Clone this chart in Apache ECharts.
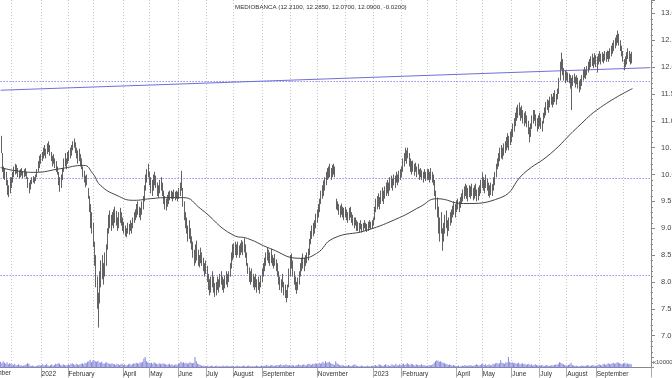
<!DOCTYPE html>
<html>
<head>
<meta charset="utf-8">
<title>Mediobanca</title>
<script src="https://cdn.jsdelivr.net/npm/echarts@6/dist/echarts.min.js"></script>
<style>
html, body { margin: 0; padding: 0; background: #fff; }
#chart { width: 672px; height: 378px; }
</style>
</head>
<body>
<div id="chart"></div>
<script>
const title = 'MEDIOBANCA (12.2100, 12.2850, 12.0700, 12.0900, -0.0200)'
const axisStart = '2021-11-18'
const axisEnd = '2023-10-31'
const firstBar = '2021-11-18'
const cutLabel = 'November'   // label of the month that starts left of the window

// month tick labels that are printed (the others are hidden by overlap)
const monthLabels = [
  ['2022-01', '2022'], ['2022-02', 'February'], ['2022-04', 'April'],
  ['2022-05', 'May'], ['2022-06', 'June'], ['2022-07', 'July'], ['2022-08', 'August'],
  ['2022-09', 'September'], ['2022-11', 'November'], ['2023-01', '2023'], ['2023-02', 'February'],
  ['2023-04', 'April'], ['2023-05', 'May'], ['2023-06', 'June'], ['2023-07', 'July'],
  ['2023-08', 'August'], ['2023-09', 'September']
]

// daily lows / highs, one line per month, from firstBar on
const lows = [
  10.40, 10.05, 9.92, 9.90, 9.80, 9.62, 9.58, 9.65, 9.75,
  9.85, 9.95, 10.00, 10.02, 9.95, 9.93, 9.95, 9.98, 9.93, 9.95, 9.97, 9.92, 9.75, 9.65, 9.72, 9.82, 9.85, 9.83, 9.88, 9.95, 10.05, 10.12, 10.20,
  10.25, 10.30, 10.35, 10.30, 10.38, 10.42, 10.35, 10.25, 10.15, 10.20, 10.12, 10.05, 10.00, 9.80, 9.68, 9.75, 9.90, 10.05, 10.15, 10.10, 10.20,
  10.25, 10.30, 10.35, 10.45, 10.50, 10.40, 10.30, 10.20, 10.25, 10.15, 10.10, 9.95, 9.85, 9.76, 9.80, 9.55, 9.30, 9.00, 8.90, 8.65,
  8.30, 7.90, 7.50, 7.15, 7.60, 7.90, 8.05, 7.95, 8.10, 8.30, 8.60, 8.90, 9.00, 8.95, 9.05, 9.00, 9.10, 9.05, 8.95, 9.00, 9.10, 9.05, 8.95,
  8.90, 8.85, 8.83, 8.90, 8.88, 8.95, 8.90, 9.00, 9.10, 9.15, 9.20, 9.25, 9.20, 9.15, 9.25, 9.35, 9.50, 9.70, 9.85, 9.95, 9.80,
  9.65, 9.60, 9.70, 9.80, 9.75, 9.60, 9.57, 9.65, 9.70, 9.60, 9.45, 9.35, 9.33, 9.40, 9.45, 9.52, 9.55, 9.50, 9.55, 9.52, 9.55, 9.50,
  9.55, 9.60, 9.70, 9.40, 9.15, 9.00, 8.90, 8.75, 8.80, 8.72, 8.60, 8.45, 8.30, 8.35, 8.40, 8.30, 8.27, 8.35, 8.30, 8.20, 8.10, 8.15,
  8.00, 7.85, 7.75, 7.80, 7.90, 7.80, 7.72, 7.75, 7.85, 7.80, 7.90, 7.95, 7.85, 7.80, 7.88, 7.95, 7.90, 8.00, 8.10, 8.25, 8.40,
  8.45, 8.50, 8.45, 8.50, 8.45, 8.50, 8.55, 8.50, 8.55, 8.45, 8.30, 8.15, 8.00, 7.95, 8.00, 7.90, 7.85, 7.90, 7.80, 7.85, 7.78, 7.90, 8.00,
  8.10, 8.20, 8.30, 8.40, 8.35, 8.30, 8.35, 8.30, 8.25, 8.30, 8.20, 8.10, 7.95, 7.85, 7.80, 7.90, 7.75, 7.70, 7.62, 7.70, 7.90, 8.10,
  8.25, 8.10, 7.95, 7.85, 7.78, 7.85, 7.95, 8.10, 8.20, 8.25, 8.20, 8.30, 8.35, 8.40, 8.50, 8.70, 8.80, 8.85, 8.90, 9.00, 9.10,
  9.20, 9.30, 9.45, 9.55, 9.60, 9.70, 9.80, 9.90, 9.93, 9.95, 9.90, 9.95, 10.00, 9.95, 9.35, 9.33, 9.25, 9.20, 9.25, 9.20, 9.15, 9.20,
  9.15, 9.10, 9.15, 9.20, 9.10, 9.05, 9.00, 9.05, 8.95, 8.95, 8.92, 8.98, 8.92, 8.95, 9.00, 8.95, 8.93, 8.95, 9.00, 8.98, 9.00, 9.05,
  9.15, 9.30, 9.35, 9.40, 9.35, 9.45, 9.50, 9.45, 9.55, 9.60, 9.65, 9.60, 9.70, 9.75, 9.70, 9.80, 9.75, 9.85, 9.80, 9.85, 9.90, 9.95,
  10.05, 10.15, 10.25, 10.20, 10.30, 10.15, 10.05, 10.00, 10.05, 9.98, 10.05, 9.95, 10.00, 9.90, 9.95, 9.90, 9.85, 9.92, 9.88, 9.90,
  9.90, 9.85, 9.90, 9.85, 9.80, 9.60, 9.35, 9.20, 8.90, 8.75, 8.90, 8.58, 8.75, 8.90, 9.00, 8.85, 8.95, 9.05, 9.10, 9.20, 9.25, 9.20, 9.30,
  9.35, 9.30, 9.38, 9.45, 9.50, 9.55, 9.60, 9.55, 9.50, 9.58, 9.55, 9.60, 9.52, 9.55, 9.60, 9.50, 9.52, 9.60, 9.65, 9.75,
  9.70, 9.65, 9.75, 9.70, 9.60, 9.57, 9.62, 9.60, 9.70, 9.80, 9.95, 10.10, 10.15, 10.25, 10.30, 10.28, 10.35, 10.40, 10.45, 10.50, 10.45, 10.55, 10.60,
  10.70, 10.80, 10.90, 11.00, 11.05, 11.10, 11.00, 11.05, 10.95, 10.90, 10.95, 10.88, 10.75, 10.60, 10.70, 10.85, 10.95, 11.00, 10.90, 10.80, 10.85, 10.90,
  10.85, 10.80, 10.95, 11.05, 11.10, 11.20, 11.15, 11.25, 11.30, 11.25, 11.30, 11.35, 11.30, 11.40, 11.50, 11.75, 11.95, 11.85, 11.75, 11.70, 11.75,
  11.72, 11.70, 11.60, 11.20, 11.65, 11.70, 11.62, 11.68, 11.60, 11.53, 11.58, 11.65, 11.75, 11.80, 11.78, 11.85, 11.90, 11.95, 12.00, 12.02, 11.98, 12.05, 12.00,
  11.90, 12.05, 12.10, 12.05, 12.10, 12.07, 12.12, 12.10, 12.15, 12.10, 12.15, 12.20, 12.25, 12.30, 12.35, 12.40, 12.45, 12.40, 12.30, 12.20, 12.10,
  11.94, 12.00, 12.05, 12.15, 12.10, 12.05, 12.07
]
const highs = [
  10.72, 10.40, 10.15, 10.12, 10.05, 9.90, 9.80, 9.95, 9.95,
  10.05, 10.15, 10.20, 10.18, 10.12, 10.08, 10.10, 10.12, 10.06, 10.10, 10.12, 10.05, 9.95, 9.85, 9.90, 9.95, 9.97, 9.95, 10.00, 10.10, 10.25, 10.35, 10.38,
  10.42, 10.50, 10.55, 10.48, 10.58, 10.62, 10.55, 10.42, 10.35, 10.38, 10.30, 10.25, 10.15, 10.05, 9.95, 10.00, 10.12, 10.30, 10.40, 10.30, 10.42,
  10.45, 10.50, 10.55, 10.62, 10.67, 10.60, 10.50, 10.45, 10.48, 10.38, 10.30, 10.15, 10.07, 9.98, 10.00, 9.75, 9.60, 9.45, 9.30, 9.10,
  8.75, 8.50, 8.10, 7.80, 8.20, 8.40, 8.50, 8.35, 8.55, 8.70, 9.00, 9.25, 9.33, 9.25, 9.30, 9.35, 9.40, 9.32, 9.20, 9.30, 9.38, 9.30, 9.20,
  9.12, 9.05, 9.00, 9.10, 9.08, 9.15, 9.10, 9.20, 9.30, 9.35, 9.45, 9.50, 9.40, 9.38, 9.50, 9.60, 9.80, 10.00, 10.10, 10.20, 10.05,
  9.95, 9.90, 10.00, 10.05, 9.98, 9.85, 9.80, 9.90, 9.95, 9.85, 9.70, 9.60, 9.55, 9.62, 9.68, 9.70, 9.70, 9.68, 9.72, 9.68, 9.70, 9.68,
  9.75, 9.85, 10.07, 9.75, 9.50, 9.30, 9.20, 9.05, 9.15, 9.00, 8.85, 8.75, 8.60, 8.70, 8.77, 8.60, 8.50, 8.64, 8.55, 8.45, 8.35, 8.40,
  8.30, 8.15, 8.05, 8.10, 8.20, 8.10, 7.98, 8.00, 8.10, 8.05, 8.15, 8.20, 8.10, 8.05, 8.12, 8.20, 8.15, 8.20, 8.35, 8.55, 8.70,
  8.72, 8.75, 8.70, 8.75, 8.68, 8.72, 8.78, 8.75, 8.81, 8.70, 8.55, 8.35, 8.27, 8.20, 8.25, 8.15, 8.10, 8.15, 8.05, 8.10, 8.00, 8.12, 8.25,
  8.35, 8.45, 8.55, 8.64, 8.60, 8.55, 8.62, 8.50, 8.45, 8.52, 8.42, 8.35, 8.20, 8.10, 8.05, 8.15, 8.00, 7.95, 7.85, 7.95, 8.25, 8.50,
  8.53, 8.40, 8.20, 8.10, 8.00, 8.08, 8.20, 8.35, 8.45, 8.53, 8.45, 8.50, 8.55, 8.62, 8.80, 8.95, 9.05, 9.10, 9.15, 9.27, 9.35,
  9.45, 9.55, 9.70, 9.80, 9.89, 9.95, 10.05, 10.12, 10.15, 10.20, 10.12, 10.18, 10.20, 10.15, 9.55, 9.50, 9.45, 9.42, 9.46, 9.40, 9.38, 9.40,
  9.35, 9.30, 9.38, 9.40, 9.30, 9.25, 9.20, 9.20, 9.15, 9.12, 9.10, 9.15, 9.08, 9.10, 9.15, 9.10, 9.08, 9.12, 9.15, 9.12, 9.15, 9.20,
  9.40, 9.55, 9.60, 9.65, 9.58, 9.70, 9.76, 9.70, 9.78, 9.85, 9.90, 9.85, 9.95, 9.98, 9.93, 10.00, 9.98, 10.05, 10.00, 10.07, 10.10, 10.15,
  10.30, 10.40, 10.50, 10.45, 10.50, 10.40, 10.30, 10.25, 10.26, 10.20, 10.22, 10.15, 10.20, 10.10, 10.12, 10.08, 10.05, 10.10, 10.05, 10.10,
  10.10, 10.05, 10.12, 10.05, 10.00, 9.90, 9.70, 9.57, 9.40, 9.20, 9.30, 9.00, 9.10, 9.25, 9.33, 9.15, 9.20, 9.30, 9.35, 9.42, 9.50, 9.45, 9.52,
  9.55, 9.50, 9.58, 9.65, 9.72, 9.78, 9.83, 9.80, 9.75, 9.80, 9.78, 9.83, 9.75, 9.80, 9.83, 9.72, 9.76, 9.80, 9.90, 10.04,
  9.95, 9.90, 10.00, 9.92, 9.85, 9.80, 9.85, 9.82, 9.95, 10.05, 10.20, 10.30, 10.40, 10.50, 10.55, 10.50, 10.58, 10.62, 10.70, 10.77, 10.72, 10.80, 10.85,
  10.95, 11.05, 11.15, 11.25, 11.30, 11.34, 11.25, 11.28, 11.20, 11.15, 11.18, 11.10, 11.00, 10.88, 10.95, 11.10, 11.20, 11.20, 11.12, 11.05, 11.10, 11.15,
  11.06, 11.00, 11.15, 11.25, 11.35, 11.40, 11.38, 11.45, 11.50, 11.45, 11.52, 11.57, 11.50, 11.60, 11.80, 12.10, 12.27, 12.15, 11.98, 11.94, 11.92,
  11.90, 11.88, 11.85, 11.80, 11.85, 11.88, 11.82, 11.85, 11.80, 11.75, 11.78, 11.85, 11.95, 12.00, 11.95, 12.02, 12.10, 12.15, 12.20, 12.25, 12.18, 12.26, 12.22,
  12.20, 12.25, 12.30, 12.25, 12.28, 12.25, 12.30, 12.28, 12.31, 12.30, 12.35, 12.40, 12.45, 12.50, 12.55, 12.60, 12.68, 12.62, 12.50, 12.40, 12.30,
  12.15, 12.20, 12.28, 12.35, 12.30, 12.25, 12.285
]

// daily volume, x100000
const volumes = [
  55, 40, 60, 45, 35, 50, 30, 40, 35,
  30, 25, 35, 20, 25, 30, 20, 25, 15, 20, 25, 30, 40, 35, 20, 15, 20, 15, 10, 15, 20, 25, 20,
  25, 30, 20, 25, 35, 20, 15, 25, 30, 20, 25, 35, 30, 40, 35, 25, 20, 30, 25, 20, 25,
  30, 25, 35, 40, 30, 25, 35, 30, 25, 30, 35, 40, 30, 45, 40, 55, 60, 75, 50, 65,
  70, 60, 55, 65, 50, 45, 55, 40, 35, 45, 50, 40, 35, 30, 40, 35, 30, 25, 35, 30, 25, 30, 35,
  25, 30, 20, 25, 30, 35, 25, 30, 40, 35, 45, 40, 35, 50, 45, 55, 85, 100, 60, 50, 45,
  40, 45, 35, 50, 40, 35, 30, 40, 35, 30, 40, 35, 30, 25, 30, 35, 25, 30, 20, 25, 30, 25,
  35, 40, 55, 45, 50, 40, 45, 35, 40, 50, 45, 40, 45, 100, 60, 35, 30, 25, 20, 15, 20, 15,
  15, 20, 10, 15, 20, 15, 10, 15, 20, 10, 15, 10, 15, 20, 10, 15, 20, 15, 10, 15, 20,
  15, 10, 15, 20, 10, 15, 10, 15, 20, 15, 10, 15, 20, 15, 10, 15, 10, 15, 20, 15, 10, 15, 20,
  15, 20, 15, 25, 20, 15, 20, 25, 20, 15, 20, 25, 20, 25, 30, 20, 25, 20, 30, 25, 20, 25,
  20, 25, 20, 15, 25, 20, 30, 25, 20, 25, 30, 25, 20, 30, 35, 30, 25, 35, 30, 40, 35,
  30, 45, 35, 40, 55, 40, 60, 45, 50, 55, 40, 35, 30, 25, 60, 40, 30, 25, 20, 25, 20, 15,
  20, 15, 25, 20, 15, 20, 25, 30, 20, 15, 10, 15, 20, 15, 10, 15, 10, 20, 15, 10, 15, 20,
  20, 25, 15, 20, 30, 25, 20, 15, 25, 30, 20, 25, 15, 20, 30, 25, 20, 35, 25, 20, 30, 25,
  30, 35, 25, 30, 40, 30, 25, 35, 30, 25, 20, 30, 25, 20, 25, 30, 20, 25, 20, 15,
  20, 25, 20, 25, 30, 45, 60, 70, 65, 55, 60, 50, 45, 40, 35, 30, 25, 30, 25, 20, 25, 20, 15,
  15, 20, 10, 15, 20, 15, 25, 20, 15, 20, 25, 20, 15, 20, 25, 30, 25, 20, 25, 30,
  35, 25, 30, 20, 25, 30, 20, 25, 35, 30, 40, 45, 35, 40, 70, 45, 40, 35, 50, 45, 100, 55, 45,
  50, 40, 45, 35, 40, 45, 30, 35, 40, 30, 35, 25, 30, 35, 25, 30, 20, 25, 30, 25, 20, 25,
  20, 25, 20, 15, 20, 25, 20, 15, 20, 25, 20, 25, 30, 25, 35, 50, 45, 35, 30, 25, 20,
  20, 25, 30, 45, 25, 20, 15, 20, 15, 10, 15, 20, 15, 20, 15, 20, 25, 20, 15, 20, 25, 20, 15,
  20, 25, 30, 25, 20, 30, 35, 25, 30, 40, 35, 30, 40, 45, 35, 40, 50, 45, 40, 35, 30,
  40, 45, 35, 40, 30, 35, 30
]

// moving average: axis day index -> value
const maIdx = [0, 26, 47, 65, 72, 78, 91, 104, 117, 130, 143, 156, 182, 193, 211, 234, 247, 260, 286, 312, 328, 341, 362, 391, 409, 430, 451, 469, 494]
const maVal = [10.13, 10.04, 10.11, 10.17, 10.02, 9.80, 9.61, 9.52, 9.55, 9.57, 9.57, 9.37, 8.87, 8.81, 8.62, 8.44, 8.53, 8.81, 8.96, 9.20, 9.40, 9.55, 9.46, 9.57, 10.02, 10.39, 10.88, 11.25, 11.60]

// trend line ends and the three dotted levels
const trendIdx = [0, 508]
const trendVal = [11.57, 11.99]
const levels = [11.732, 9.926, 8.12]

// weekday axis
const dates = []
for (let d = new Date(axisStart + 'T00:00:00Z'); d <= new Date(axisEnd + 'T00:00:00Z'); d.setUTCDate(d.getUTCDate() + 1)) {
  const wd = d.getUTCDay()
  if (wd !== 0 && wd !== 6) dates.push(d.toISOString().slice(0, 10))
}
const first = dates.indexOf(firstBar)
const lastIdx = dates.length - 1
const isMonthStart = (k) => k > 0 && dates[k].slice(0, 7) !== dates[k - 1].slice(0, 7)
const labelMap = {}
monthLabels.forEach(m => { labelMap[m[0]] = m[1] })
const isLabelled = (k) => isMonthStart(k) && labelMap[dates[k].slice(0, 7)] !== undefined

const bars = lows.map((l, j) => [first + j, l, highs[j]])
const vol = volumes.map((v, j) => [first + j, v])
const ma = maIdx.map((k, j) => [k, maVal[j]])
const trend = trendIdx.map((k, j) => [k, trendVal[j]])

const gridLine = { show: true, interval: (k) => isMonthStart(k), lineStyle: { color: '#c8c8c8', type: [1, 2], width: 1 } }
const font = 'Liberation Sans'

const levelSeries = levels.map((v, j) => ({
  name: 'level' + j, type: 'line', xAxisIndex: 0, yAxisIndex: 0,
  data: [[0, v], [lastIdx, v]], showSymbol: false, silent: true, z: 2,
  lineStyle: { color: '#5a5aee', type: [1, 2], width: 1 }
}))

const chart = echarts.init(document.getElementById('chart'), null, { renderer: 'canvas' })
chart.setOption({
  animation: false,
  backgroundColor: '#fff',
  title: {
    text: title, left: 235, top: 4, padding: 0,
    textStyle: { fontSize: 6.2, fontWeight: 'normal', color: '#333', fontFamily: font }
  },
  graphic: [
    { type: 'text', x: 653, y: 359, style: { text: 'x100000', fontSize: 6, fill: '#444', fontFamily: font } },
    { type: 'text', x: -19, y: 370, style: { text: cutLabel, fontSize: 6.5, fill: '#333', fontFamily: font } }
  ],
  grid: [
    { left: 0, right: 21, top: 0, bottom: 15.5, outerBoundsMode: 'none' },
    { left: 0, right: 21, top: 357, bottom: 10.5, outerBoundsMode: 'none' }
  ],
  xAxis: [
    {
      type: 'category', gridIndex: 0, data: dates,
      axisLine: { show: false }, axisTick: { show: false }, axisLabel: { show: false },
      splitLine: gridLine
    },
    {
      type: 'category', gridIndex: 1, data: dates, position: 'top',
      axisLine: { show: true, lineStyle: { color: '#888' } },
      axisTick: { show: false }, axisLabel: { show: false }, splitLine: { show: false }
    },
    {
      type: 'category', gridIndex: 1, data: dates, position: 'bottom',
      axisLine: { show: false },
      axisTick: { show: true, interval: (k) => isLabelled(k), length: 10, lineStyle: { color: '#aaa' } },
      axisLabel: {
        interval: (k) => isLabelled(k),
        formatter: (v) => labelMap[v.slice(0, 7)] || '',
        align: 'left', margin: 3, fontSize: 6.5, color: '#333', fontFamily: font
      },
      splitLine: gridLine
    }
  ],
  yAxis: [
    {
      type: 'value', gridIndex: 0, position: 'right', min: 6.5, max: 13.25, interval: 0.5,
      axisLine: { show: true, lineStyle: { color: '#888' } },
      axisTick: { show: true, length: 4, lineStyle: { color: '#888' } },
      minorTick: { show: true, splitNumber: 5, length: 2, lineStyle: { color: '#888' } },
      splitLine: { show: false },
      axisLabel: {
        margin: 10, fontSize: 7.5, color: '#444', fontFamily: font,
        formatter: (v) => (v >= 7 && v <= 13) ? v.toFixed(1) : ''
      }
    },
    {
      type: 'value', gridIndex: 1, position: 'right', min: 0, max: 100, interval: 100,
      axisLine: { show: true, lineStyle: { color: '#888' } },
      axisTick: { show: true, length: 3, lineStyle: { color: '#888' } },
      axisLabel: { show: false },
      splitLine: { show: false }
    }
  ],
  series: [
    {
      name: 'trend', type: 'line', xAxisIndex: 0, yAxisIndex: 0, data: trend,
      showSymbol: false, silent: true, z: 2,
      lineStyle: { color: '#6f6fd8', width: 1 }
    },
    ...levelSeries,
    {
      name: 'MEDIOBANCA', type: 'custom', xAxisIndex: 0, yAxisIndex: 0, data: bars, z: 3,
      encode: { x: 0, y: [1, 2] },
      renderItem: (params, api) => {
        const lo = api.coord([api.value(0), api.value(1)])
        const hi = api.coord([api.value(0), api.value(2)])
        const x = Math.round(lo[0]) + 0.5
        return {
          type: 'line',
          shape: { x1: x, y1: lo[1], x2: x, y2: hi[1] },
          style: { stroke: '#626262', lineWidth: 1 }
        }
      }
    },
    {
      name: 'MA', type: 'line', xAxisIndex: 0, yAxisIndex: 0, data: ma, smooth: true,
      showSymbol: false, silent: true, z: 4,
      lineStyle: { color: '#444', width: 1 }
    },
    {
      name: 'Volume', type: 'bar', xAxisIndex: 2, yAxisIndex: 1, data: vol,
      barWidth: 1, itemStyle: { color: '#8585de' }, silent: true
    }
  ]
})
</script>
</body>
</html>
